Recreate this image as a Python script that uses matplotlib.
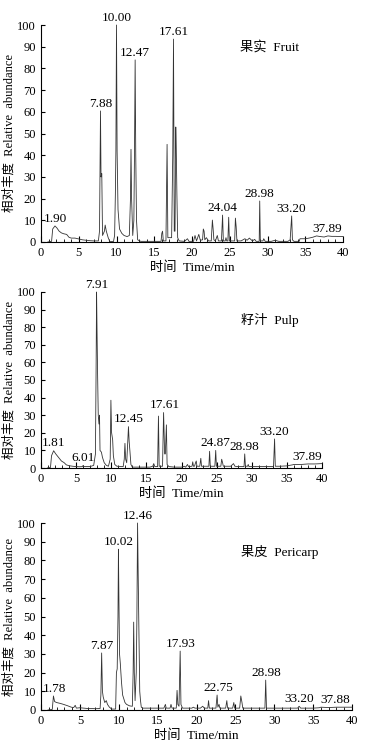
import matplotlib
matplotlib.use('Agg')
import matplotlib.pyplot as plt
import numpy as np
from matplotlib.ticker import MultipleLocator

# Шрифты: латиница с засечками, китайские знаки из Noto
plt.rcParams['font.family'] = ['Liberation Serif', 'Noto Sans CJK SC']

# Хроматограмма 1: 果实 Fruit (время, мин / относительная интенсивность, %)
fruit_t = [0.9, 1.4, 1.55, 1.85, 2.1, 2.4, 2.7, 3.0, 3.4, 3.7, 4.0, 4.5, 5.0, 5.5, 6.0, 6.5, 7.0, 7.6,
           7.75, 7.88, 7.95, 8.05, 8.15, 8.4, 8.5, 8.65, 8.9, 9.1, 9.6, 9.75, 9.85, 9.92, 10.0, 10.08,
           10.2, 10.4, 10.7, 11.0, 11.4, 11.7, 11.85, 11.92, 12.0, 12.15, 12.3, 12.38, 12.47, 12.55,
           12.65, 12.8, 13.2, 15.9, 16.0, 16.1, 16.2, 16.55, 16.7, 16.8, 17.3, 17.45, 17.55, 17.65,
           17.75, 17.85, 17.92, 18.0, 18.1, 18.3, 19.0, 19.4, 19.6, 20.2, 20.4, 20.6, 20.9, 21.1, 21.4,
           21.5, 21.6, 21.7, 21.9, 22.2, 22.55, 22.7, 22.8, 22.9, 23.1, 23.35, 23.5, 23.9, 24.05, 24.15,
           24.4, 24.5, 24.6, 24.75, 24.86, 24.95, 25.65, 25.75, 25.85, 25.95, 26.5, 27.0, 27.3, 27.6,
           28.0, 28.3, 28.5, 28.9, 28.97, 29.05, 29.4, 29.5, 29.7, 30.5, 31.0, 31.5, 32.7, 33.0, 33.2,
           33.3, 33.5, 34.2, 34.3, 35.0, 35.5, 36.0, 36.5, 37.0, 37.5, 38.0, 38.5, 39.0, 40.0]
fruit_y = [0, 0.3, 6, 7.4, 6.5, 5, 4.2, 3.8, 3.5, 2.2, 1.8, 1.8, 1.4, 1.0, 0.8, 0.6, 0.5, 0.5,
           5, 60.4, 30, 31.5, 3, 5, 7.8, 5, 2, 0.3, 0.2, 3, 22, 42, 100, 42,
           15, 6, 4, 3, 2.5, 3, 20, 42.7, 20, 3, 10, 40, 83.9, 40,
           10, 1, 0.3, 0.3, 4, 5, 0.5, 0.5, 45, 2, 2, 40, 93.5, 5,
           5, 53, 42, 22, 2, 0.5, 0.3, 1.5, 0.3, 0.3, 3, 0.5, 3.5, 0.8, 1,
           6, 5, 1, 2, 0.5, 0.5, 10.1, 6, 1, 0.5, 3, 0.5, 0.5, 12.4, 0.5,
           0.5, 2, 0.5, 0.5, 11.4, 0.5, 0.5, 11, 7, 0.5, 0.5, 1.5, 0.8, 1.8,
           0.5, 1.2, 0.3, 0.3, 18.9, 0.5, 0.5, 1.5, 0.3, 0.3, 0.8, 0.3, 0.3, 1, 12,
           1, 0.3, 0.3, 1.5, 1.5, 1.8, 2.2, 2.8, 2.5, 2.3, 2.8, 2.6, 2.6, 2.5]
fruit_labels = ['1.90', '7.88', '10.00', '12.47', '17.61', '24.04', '28.98', '33.20', '37.89']

# Хроматограмма 2: 籽汁 Pulp
pulp_t = [0.9, 1.35, 1.5, 1.8, 2.1, 2.5, 2.9, 3.3, 3.6, 4.0, 4.5, 5.0, 5.5, 5.9, 6.0, 6.1, 7.0, 7.5,
          7.75, 7.85, 7.91, 7.97, 8.05, 8.15, 8.25, 8.33, 8.4, 8.6, 8.75, 9.0, 9.3, 9.6, 9.85, 9.95,
          10.05, 10.2, 10.3, 10.5, 10.8, 11.7, 11.85, 11.95, 12.05, 12.2, 12.35, 12.45, 12.55, 12.65,
          12.8, 13.0, 15.5, 15.9, 16.05, 16.2, 16.6, 16.72, 16.82, 17.3, 17.45, 17.6, 17.7, 17.85,
          17.95, 18.2, 19.0, 20.0, 20.4, 20.6, 20.85, 21.0, 21.5, 21.6, 21.7, 21.85, 22.0, 22.1, 22.2,
          22.6, 22.75, 22.85, 23.5, 23.9, 24.0, 24.1, 24.75, 24.87, 24.97, 25.6, 25.72, 25.85, 25.95,
          26.5, 27.0, 27.4, 27.6, 28.0, 28.9, 29.0, 29.1, 29.4, 29.5, 29.6, 30.5, 32.0, 33.1, 33.25,
          33.35, 34.0, 35.0, 35.8, 36.0, 37.0, 38.0, 39.0, 40.0]
pulp_y = [0, 0.3, 7, 9.8, 8, 6, 4, 3, 1.8, 1.3, 1.0, 0.8, 0.7, 0.8, 1.5, 0.8, 0.8, 1.5,
          8, 60, 100, 80, 55, 30, 25, 30, 10, 9, 6, 3, 1.5, 1, 5, 38.5,
          20, 16, 7, 2, 1, 0.8, 5, 14, 5, 3, 15, 23.5, 15, 10,
          2, 0.5, 0.5, 1, 2.5, 0.8, 0.8, 29.5, 1, 1, 31.5, 8, 8, 24.5,
          2, 0.8, 0.5, 0.5, 1, 0.5, 2, 0.8, 1, 3.5, 1, 1, 3, 4, 1,
          1, 5.5, 1, 1, 1, 9.5, 1, 1, 10, 1, 1, 5, 3, 1,
          1, 1, 2.5, 1, 0.8, 0.8, 8, 1, 1, 2, 0.8, 0.8, 0.8, 0.8, 16.5,
          1, 1, 1.2, 1.8, 2, 2, 2.3, 2.3, 2.5]
pulp_labels = ['1.81', '6.01', '7.91', '12.45', '17.61', '24.87', '28.98', '33.20', '37.89']

# Хроматограмма 3: 果皮 Pericarp
peri_t = [0.9, 1.45, 1.6, 1.75, 2.0, 2.5, 2.9, 3.4, 3.9, 4.2, 4.4, 4.55, 5.0, 5.5, 6.0, 6.5, 7.0, 7.6,
          7.7, 7.8, 7.9, 8.0, 8.2, 8.4, 8.55, 8.8, 9.1, 9.6, 9.7, 9.8, 9.9, 9.96, 10.02, 10.1, 10.2,
          10.35, 10.5, 10.8, 11.0, 11.4, 11.75, 11.85, 11.92, 12.0, 12.1, 12.25, 12.33, 12.42, 12.5,
          12.6, 12.7, 12.8, 12.9, 13.1, 15.8, 16.0, 16.1, 16.6, 16.72, 16.85, 17.4, 17.5, 17.6, 17.75,
          17.9, 18.0, 18.2, 19.4, 19.6, 19.8, 20.5, 20.8, 21.0, 21.45, 21.55, 21.65, 22.5, 22.65,
          22.75, 22.9, 23.0, 23.75, 23.9, 24.0, 24.65, 24.8, 24.9, 25.55, 25.7, 25.85, 25.95, 27.0,
          28.0, 28.8, 28.9, 29.0, 29.5, 30.5, 32.0, 33.0, 33.2, 33.4, 35.0, 35.8, 36.0, 37.0, 38.0,
          39.0, 40.0]
peri_y = [0, 0.3, 7.5, 4.5, 4, 3.5, 3, 2.3, 1.5, 1.3, 2.5, 1, 1.2, 1.0, 0.8, 0.8, 0.7, 0.8,
          8, 30.5, 10, 7, 4, 5, 3, 1.5, 0.5, 0.5, 20, 22, 50, 86, 60, 30, 25,
          15, 8, 4, 3, 2.2, 2, 20, 47, 20, 5, 20, 48, 100, 72,
          40, 10, 5, 1.5, 1, 1, 3, 1, 1, 3, 1, 1, 10.5, 3, 2,
          31.5, 3, 1, 1, 1.5, 1, 1, 2, 1, 1, 5, 1, 1, 8,
          1.5, 3, 1, 1, 5, 1, 1, 4, 1, 1, 7.5, 4, 1, 1,
          1, 1, 16, 1, 1, 1, 1, 1, 2, 1, 1, 1.2, 1.5, 1.3, 1.5,
          1.5, 1.5]
peri_labels = ['1.78', '7.87', '10.02', '12.46', '17.93', '22.75', '28.98', '33.20', '37.88']

# Положение осей в пикселях: левый край, верх (100), правый край (40 мин), низ (0)
W, H = 368, 749
boxes = [(41, 25, 343, 242), (41, 292, 322, 468), (41, 523, 352, 710)]
names = ['果实  Fruit', '籽汁  Pulp', '果皮  Pericarp']
name_pos = [(30.3, 90), (32.6, 84), (30.7, 84.5)]
traces = [(fruit_t, fruit_y, fruit_labels), (pulp_t, pulp_y, pulp_labels), (peri_t, peri_y, peri_labels)]

fig = plt.figure(figsize=(W / 100, H / 100), dpi=100)

for (l, t, r, b), (tx, ty, labels), name, npos in zip(boxes, traces, names, name_pos):
    ax = fig.add_axes([l / W, 1 - b / H, (r - l) / W, (b - t) / H])
    tx = np.array(tx)
    ty = np.array(ty)
    ax.plot(tx, ty, color='#333333', linewidth=0.6, clip_on=False)

    # Подписи пиков: над максимумом возле указанного времени
    for lab in labels:
        x0 = float(lab)
        near = (tx >= x0 - 0.3) & (tx <= x0 + 0.3)
        ytop = ty[near].max()
        ax.annotate(lab, (x0, ytop), xytext=(0, 1), textcoords='offset points',
                    ha='center', va='bottom', fontsize=9.5, annotation_clip=False)

    ax.text(npos[0], npos[1], name, ha='center', va='center', fontsize=9.5)

    ax.set_xlim(0, 40)
    ax.set_ylim(0, 100)
    ax.xaxis.set_major_locator(MultipleLocator(5))
    ax.xaxis.set_minor_locator(MultipleLocator(1))
    ax.yaxis.set_major_locator(MultipleLocator(10))
    ax.tick_params(axis='x', which='major', direction='in', length=4, width=0.8, pad=3.5, labelsize=9)
    ax.tick_params(axis='x', which='minor', direction='in', length=2, width=0.6)
    ax.tick_params(axis='y', which='major', direction='in', length=3, width=0.8, pad=3.5, labelsize=9)
    ax.spines['top'].set_visible(False)
    ax.spines['right'].set_visible(False)
    ax.spines['left'].set_linewidth(0.8)
    ax.spines['bottom'].set_linewidth(0.8)
    ax.set_xlabel('时间  Time/min', fontsize=9.5, labelpad=2)
    ax.set_ylabel('相对丰度  Relative  abundance', fontsize=9, labelpad=1)

fig.savefig('out.png', dpi=100)
